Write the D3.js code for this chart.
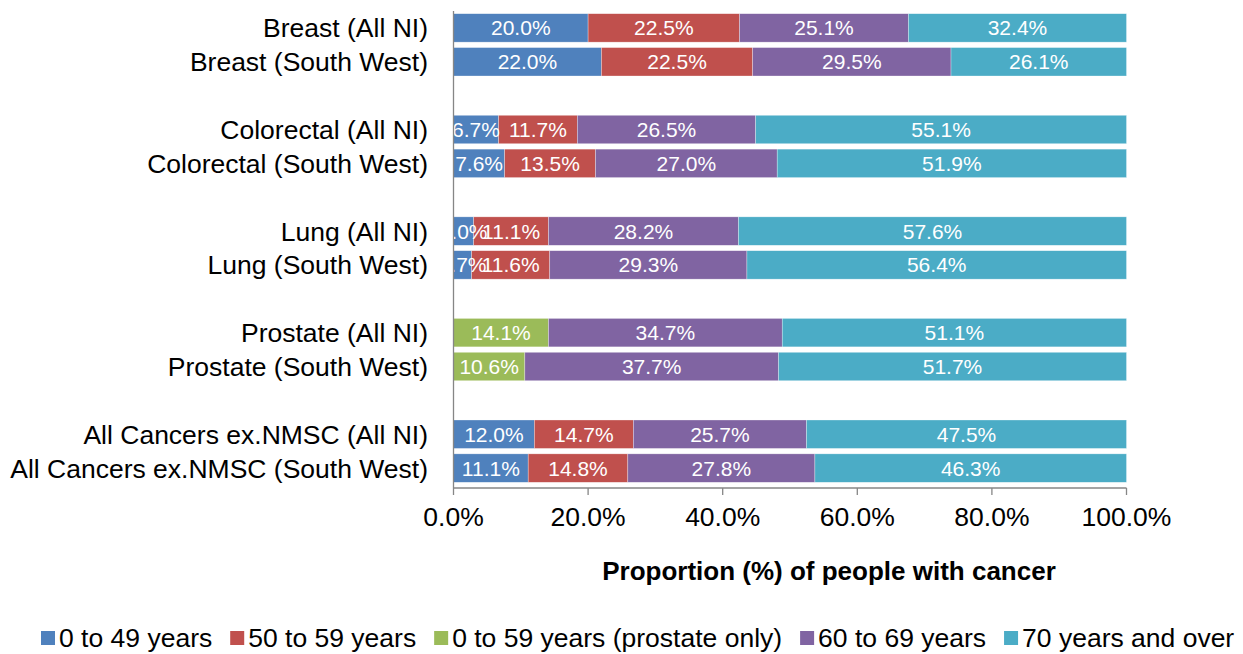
<!DOCTYPE html>
<html lang="en">
  <head>
    <meta charset="utf-8">
    <title>Age at diagnosis</title>
    <script src="https://cdn.jsdelivr.net/npm/d3@7"></script>
    <style>
      body { margin: 0; background: #fff; }
      text { font-family: "Liberation Sans", Arial, sans-serif; }
    </style>
  </head>
  <body>
    <script>
      // rows, top to bottom
      var categories = ["Breast (All NI)", "Breast (South West)",
                        "Colorectal (All NI)", "Colorectal (South West)",
                        "Lung (All NI)", "Lung (South West)",
                        "Prostate (All NI)", "Prostate (South West)",
                        "All Cancers ex.NMSC (All NI)", "All Cancers ex.NMSC (South West)"];

      var seriesNames = ["0 to 49 years", "50 to 59 years", "0 to 59 years (prostate only)",
                         "60 to 69 years", "70 years and over"];
      var seriesColors = ["#4F81BD", "#C0504D", "#9BBB59", "#8064A2", "#4BACC6"];

      var age0to49   = [20.0, 22.0, 6.7, 7.6, 3.0, 2.7, 0, 0, 12.0, 11.1];
      var age50to59  = [22.5, 22.5, 11.7, 13.5, 11.1, 11.6, 0, 0, 14.7, 14.8];
      var age0to59pr = [0, 0, 0, 0, 0, 0, 14.1, 10.6, 0, 0];
      var age60to69  = [25.1, 29.5, 26.5, 27.0, 28.2, 29.3, 34.7, 37.7, 25.7, 27.8];
      var age70plus  = [32.4, 26.1, 55.1, 51.9, 57.6, 56.4, 51.1, 51.7, 47.5, 46.3];

      var tickValues = [0, 0.2, 0.4, 0.6, 0.8, 1.0];

      var allSeries = [age0to49, age50to59, age0to59pr, age60to69, age70plus];

      var rows = categories.map(function(c, i) {
        var r = { cat: c, slot: i + Math.floor(i / 2) };
        seriesNames.forEach(function(s, j) { r[s] = allSeries[j][i]; });
        return r;
      });

      var stacked = d3.stack().keys(seriesNames).offset(d3.stackOffsetExpand)(rows);

      var svg = d3.select("body").append("svg")
                  .attr("width", 1243)
                  .attr("height", 654);

      var x = d3.scaleLinear().domain([0, 1]).range([453.5, 1126.5]);
      var y = d3.scaleBand().domain(d3.range(14)).range([11, 485])
                .paddingInner(0.16).paddingOuter(0.08);

      svg.append("clipPath").attr("id", "plotclip")
         .append("rect").attr("x", 453.5).attr("y", 0).attr("width", 700).attr("height", 490);

      // bars
      svg.append("g").selectAll("g")
         .data(stacked)
         .enter().append("g")
         .attr("fill", function(d, i) { return seriesColors[i]; })
         .selectAll("rect")
         .data(function(d) { return d; })
         .enter().append("rect")
         .attr("x", function(d) { return x(d[0]); })
         .attr("y", function(d) { return y(d.data.slot); })
         .attr("width", function(d) { return x(d[1]) - x(d[0]); })
         .attr("height", y.bandwidth())
         .attr("stroke", "#ffffff")
         .attr("stroke-opacity", 0.5)
         .attr("stroke-width", 0.6);

      // value labels (small lung segments overlap their neighbours, as in the source)
      var labels = svg.append("g").attr("clip-path", "url(#plotclip)");
      stacked.forEach(function(s) {
        labels.selectAll(null)
          .data(s.filter(function(d) { return d.data[s.key] > 0; }))
          .enter().append("text")
          .attr("x", function(d) { return (x(d[0]) + x(d[1])) / 2; })
          .attr("y", function(d) { return y(d.data.slot) + y.bandwidth() / 2 + 7.5; })
          .attr("text-anchor", "middle")
          .attr("fill", "#ffffff")
          .style("font-size", "21px")
          .text(function(d) { return d.data[s.key].toFixed(1) + "%"; });
      });

      // axes
      var axisColor = "#868686";
      svg.append("line")
         .attr("x1", 453.5).attr("x2", 453.5).attr("y1", 11).attr("y2", 488)
         .attr("stroke", axisColor).attr("stroke-width", 1.3);
      svg.append("line")
         .attr("x1", 453.5).attr("x2", 1126.5).attr("y1", 488).attr("y2", 488)
         .attr("stroke", axisColor).attr("stroke-width", 1.3);

      svg.selectAll(".tick")
         .data(tickValues)
         .enter().append("line")
         .attr("x1", function(d) { return x(d); })
         .attr("x2", function(d) { return x(d); })
         .attr("y1", 488).attr("y2", 495)
         .attr("stroke", axisColor).attr("stroke-width", 1.3);

      svg.selectAll(".ticklabel")
         .data(tickValues)
         .enter().append("text")
         .attr("x", function(d) { return x(d); })
         .attr("y", 526)
         .attr("text-anchor", "middle")
         .style("font-size", "26.5px")
         .attr("fill", "#000")
         .text(function(d) { return (d * 100).toFixed(1) + "%"; });

      svg.selectAll(".catlabel")
         .data(rows)
         .enter().append("text")
         .attr("x", 428)
         .attr("y", function(d) { return y(d.slot) + y.bandwidth() / 2 + 9.5; })
         .attr("text-anchor", "end")
         .style("font-size", "26.5px")
         .attr("fill", "#000")
         .text(function(d) { return d.cat; });

      svg.append("text")
         .attr("x", 829)
         .attr("y", 580)
         .attr("text-anchor", "middle")
         .style("font-size", "26px")
         .style("font-weight", "bold")
         .text("Proportion (%) of people with cancer");

      // legend
      var lx = 41;
      seriesNames.forEach(function(name, i) {
        svg.append("rect")
           .attr("x", lx).attr("y", 631).attr("width", 14).attr("height", 14)
           .attr("fill", seriesColors[i]);
        var t = svg.append("text")
           .attr("x", lx + 18).attr("y", 647)
           .style("font-size", "26.5px")
           .attr("fill", "#000")
           .text(name);
        lx += 18 + t.node().getComputedTextLength() + 18;
      });
    </script>
  </body>
</html>
